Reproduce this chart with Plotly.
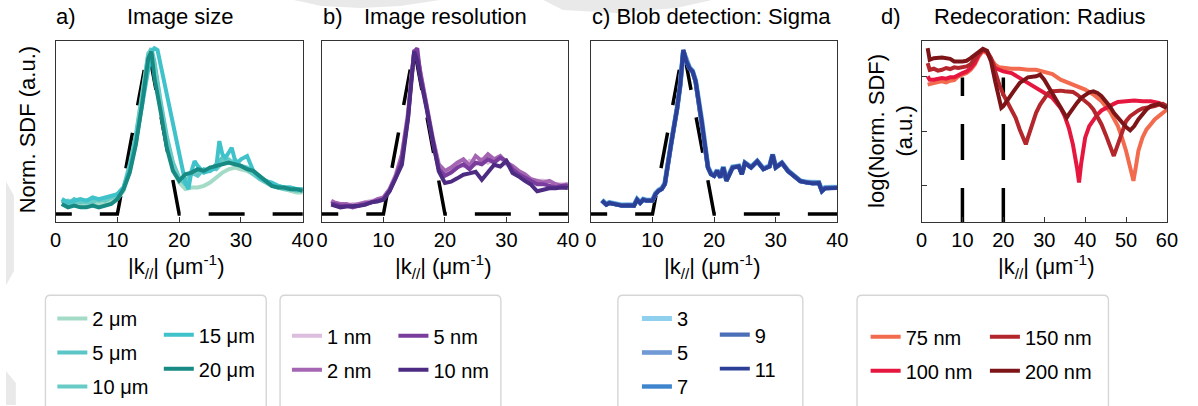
import plotly.graph_objects as go

FONT = "Liberation Sans, Arial, sans-serif"
W, H = 1198, 406

# ---------------- panel a: image size ----------------
K_A = [1, 2, 3, 4, 5, 6, 7, 8, 9, 10, 11, 12, 13, 14, 15, 15.5, 16, 17, 18, 19, 20,
       21, 22, 23, 24, 25, 26, 27, 28, 29, 30, 31, 32, 33, 34, 35, 36, 37, 38, 39, 40]
A_2UM = [0.06, 0.05, 0.06, 0.05, 0.06, 0.05, 0.06, 0.07, 0.08, 0.09, 0.14, 0.26, 0.43, 0.68, 0.93,
         0.97, 0.87, 0.63, 0.43, 0.28, 0.19, 0.15, 0.16, 0.16, 0.17, 0.19, 0.22, 0.25, 0.27, 0.28,
         0.27, 0.26, 0.24, 0.22, 0.2, 0.18, 0.16, 0.15, 0.14, 0.13, 0.13]
A_5UM = [0.08, 0.06, 0.09, 0.07, 0.08, 0.09, 0.08, 0.09, 0.10, 0.11, 0.15, 0.28, 0.46, 0.72, 0.96,
         1.0, 0.92, 0.68, 0.47, 0.31, 0.22, 0.18, 0.25, 0.23, 0.27, 0.26, 0.3, 0.34, 0.31, 0.32,
         0.29, 0.28, 0.25, 0.22, 0.2, 0.18, 0.17, 0.16, 0.16, 0.15, 0.15]
A_10UM = [0.07, 0.08, 0.06, 0.08, 0.07, 0.07, 0.09, 0.08, 0.1, 0.12, 0.16, 0.3, 0.48, 0.74, 0.97,
          0.99, 0.9, 0.66, 0.45, 0.3, 0.21, 0.2, 0.24, 0.26, 0.25, 0.28, 0.27, 0.31, 0.33, 0.3,
          0.29, 0.27, 0.24, 0.21, 0.19, 0.17, 0.16, 0.15, 0.15, 0.14, 0.14]
K_A15 = [1, 2, 3, 4, 5, 6, 7, 8, 9, 10, 11, 12, 13, 14, 15, 15.5, 16, 16.5, 17, 18, 19, 20, 21,
         21.5, 22, 22.5, 23, 24, 25, 26, 26.5, 27, 27.5, 28, 28.5, 29, 29.5, 30,
         31, 32, 33, 34, 35, 36, 37, 38, 39, 40]
A_15UM = [0.09, 0.07, 0.08, 0.09, 0.08, 0.1, 0.09, 0.1, 0.11, 0.12, 0.16, 0.27, 0.44, 0.66, 0.88,
          0.98, 1.0, 0.99, 0.9, 0.72, 0.53, 0.35, 0.19, 0.15, 0.26, 0.32, 0.29, 0.25, 0.26, 0.28,
          0.44, 0.36, 0.34, 0.37, 0.40, 0.33, 0.31, 0.33, 0.35, 0.26, 0.22, 0.2, 0.19, 0.17, 0.16,
          0.16, 0.15, 0.15]
A_20UM = [0.06, 0.04, 0.05, 0.04, 0.04, 0.05, 0.04, 0.05, 0.06, 0.09, 0.15, 0.25, 0.42, 0.66, 0.94,
          0.98, 0.82, 0.62, 0.4, 0.26, 0.2, 0.24, 0.25, 0.27, 0.26, 0.28, 0.29, 0.3, 0.31, 0.3,
          0.29, 0.27, 0.26, 0.23, 0.2, 0.17, 0.16, 0.16, 0.15, 0.15, 0.14]

# ---------------- panel b: image resolution ----------------
K_B = [1.5, 2, 3, 4, 5, 6, 7, 8, 9, 10, 11, 12, 13, 14, 14.5, 15, 15.5, 16, 17, 18, 19, 20,
       21, 22, 23, 24, 25, 26, 27, 28, 29, 30, 31, 32, 33, 34, 35, 36, 37, 38, 39, 40]
B_1NM = [0.07, 0.06, 0.06, 0.05, 0.06, 0.06, 0.07, 0.08, 0.08, 0.1, 0.15, 0.24, 0.35, 0.62,
         0.82, 0.98, 0.95, 0.85, 0.66, 0.45, 0.28, 0.25, 0.27, 0.3, 0.29, 0.32, 0.3, 0.33, 0.31,
         0.33, 0.34, 0.3, 0.28, 0.25, 0.23, 0.21, 0.2, 0.2, 0.19, 0.18, 0.18, 0.18]
B_2NM = [0.08, 0.07, 0.06, 0.06, 0.05, 0.06, 0.07, 0.07, 0.09, 0.1, 0.15, 0.23, 0.36, 0.6,
         0.8, 0.99, 0.96, 0.86, 0.67, 0.46, 0.3, 0.26, 0.28, 0.31, 0.33, 0.29, 0.35, 0.32, 0.36,
         0.33, 0.35, 0.31, 0.29, 0.26, 0.24, 0.21, 0.2, 0.19, 0.2, 0.18, 0.17, 0.18]
B_5NM = [0.06, 0.06, 0.05, 0.05, 0.04, 0.05, 0.06, 0.07, 0.08, 0.09, 0.14, 0.22, 0.33, 0.58,
         0.8, 0.98, 1.0, 0.84, 0.65, 0.44, 0.27, 0.23, 0.25, 0.28, 0.3, 0.27, 0.31, 0.3, 0.33,
         0.31, 0.34, 0.32, 0.27, 0.24, 0.22, 0.2, 0.18, 0.18, 0.17, 0.16, 0.17, 0.17]
B_10NM = [0.056, 0.05, 0.04, 0.045, 0.045, 0.05, 0.055, 0.07, 0.075, 0.086, 0.137, 0.217, 0.297,
          0.578, 0.78, 0.98, 0.93, 0.82, 0.64, 0.438, 0.257, 0.187, 0.195, 0.215, 0.237, 0.245,
          0.255, 0.207, 0.255, 0.297, 0.287, 0.32, 0.247, 0.227, 0.2, 0.177, 0.137, 0.147, 0.155,
          0.155, 0.16, 0.157]

# ---------------- panel c: blob detection sigma ----------------
K_C = [1.8, 2.5, 3, 4, 5, 6, 7, 7.5, 8, 8.5, 9, 10, 10.5, 11, 11.5, 12, 12.5, 13, 14, 14.5, 15,
       15.5, 16, 16.5, 17, 18, 19, 19.5, 20, 20.5, 21, 21.5, 22, 22.5, 23, 24, 24.5, 25, 26, 27,
       28, 29, 29.5, 30, 31, 32, 33, 34, 35, 36, 37, 37.5, 38, 39, 40]
C_3 = [0.085, 0.06, 0.07, 0.06, 0.055, 0.055, 0.055, 0.09, 0.07, 0.09, 0.085, 0.085, 0.125, 0.145,
       0.155, 0.185, 0.32, 0.42, 0.64, 0.78, 0.98, 0.93, 0.885, 0.865, 0.805, 0.565, 0.285, 0.245,
       0.235, 0.265, 0.225, 0.285, 0.205, 0.245, 0.285, 0.29, 0.245, 0.31, 0.285, 0.32, 0.275,
       0.29, 0.36, 0.285, 0.31, 0.262, 0.232, 0.2, 0.193, 0.19, 0.19, 0.142, 0.16, 0.162, 0.162]
C_5 = [0.083, 0.058, 0.068, 0.058, 0.053, 0.054, 0.052, 0.088, 0.068, 0.088, 0.083, 0.083, 0.123,
       0.143, 0.153, 0.183, 0.318, 0.42, 0.64, 0.78, 0.985, 0.925, 0.883, 0.862, 0.803, 0.562,
       0.283, 0.243, 0.233, 0.263, 0.223, 0.283, 0.203, 0.243, 0.283, 0.289, 0.243, 0.309, 0.283,
       0.319, 0.273, 0.289, 0.359, 0.283, 0.309, 0.26, 0.23, 0.2, 0.192, 0.188, 0.189, 0.14,
       0.158, 0.16, 0.16]
C_7 = [0.081, 0.057, 0.067, 0.057, 0.051, 0.053, 0.051, 0.087, 0.067, 0.087, 0.081, 0.081, 0.121,
       0.141, 0.151, 0.181, 0.317, 0.419, 0.639, 0.78, 0.988, 0.922, 0.881, 0.861, 0.801, 0.561,
       0.281, 0.241, 0.231, 0.261, 0.221, 0.281, 0.201, 0.241, 0.281, 0.288, 0.241, 0.308, 0.281,
       0.318, 0.271, 0.288, 0.358, 0.281, 0.308, 0.259, 0.229, 0.199, 0.191, 0.186, 0.188, 0.139,
       0.156, 0.159, 0.159]
C_9 = [0.08, 0.056, 0.066, 0.056, 0.05, 0.052, 0.05, 0.086, 0.066, 0.086, 0.08, 0.08, 0.12, 0.14,
       0.15, 0.18, 0.317, 0.418, 0.638, 0.78, 0.99, 0.921, 0.88, 0.86, 0.8, 0.56, 0.28, 0.24,
       0.23, 0.26, 0.22, 0.28, 0.2, 0.24, 0.28, 0.287, 0.24, 0.308, 0.28, 0.318, 0.27, 0.287,
       0.358, 0.28, 0.308, 0.258, 0.228, 0.198, 0.19, 0.185, 0.187, 0.138, 0.155, 0.158, 0.158]
C_11 = [0.08, 0.056, 0.066, 0.056, 0.05, 0.052, 0.05, 0.086, 0.066, 0.086, 0.08, 0.08, 0.12, 0.14,
        0.15, 0.18, 0.317, 0.418, 0.638, 0.78, 0.99, 0.92, 0.88, 0.86, 0.8, 0.56, 0.28, 0.24,
        0.23, 0.26, 0.22, 0.28, 0.2, 0.24, 0.28, 0.287, 0.24, 0.308, 0.28, 0.318, 0.27, 0.287,
        0.358, 0.28, 0.308, 0.258, 0.228, 0.198, 0.19, 0.185, 0.187, 0.138, 0.155, 0.158, 0.158]

# model spectrum (triangular) shown dashed in panels a-c
K_MODEL = [-3.2, 10, 15, 20, 44]
V_MODEL = [0, 0, 1, 0, 0]

# ---------------- panel d: redecoration radius (log scale) ----------------
K_D75 = [1.5, 2, 3, 4, 5, 6, 7, 8, 9, 10, 11, 12, 13, 14, 15, 16, 17, 18, 19, 20, 22, 24, 26, 28,
         30, 32, 34, 36, 38, 40, 42, 44, 46, 48, 49, 50, 51, 51.8, 52.5, 53, 54, 55, 56, 57, 58,
         59, 60]
D_75NM = [0.0705, 0.0726, 0.0757, 0.0789, 0.0811, 0.0778, 0.0834, 0.0857, 0.1, 0.107, 0.115,
          0.132, 0.163, 0.231, 0.293, 0.265, 0.201, 0.163, 0.146, 0.142, 0.138, 0.138, 0.132,
          0.132, 0.123, 0.110, 0.0869, 0.0757, 0.0658, 0.0573, 0.0465, 0.0351, 0.0231, 0.0123,
          0.00757, 0.00433, 0.00215, 0.00123, 0.00248, 0.00433, 0.00757, 0.0107, 0.0132, 0.0163,
          0.0187, 0.0215, 0.0248]
K_D100 = [1.5, 2, 3, 4, 5, 6, 7, 8, 9, 10, 11, 12, 13, 14, 15, 16, 17, 18, 19, 20, 22, 24, 26,
          28, 30, 32, 34, 35, 36, 37, 38, 38.5, 39, 40, 41, 42, 43, 44, 45, 46, 47, 48, 50, 52,
          54, 56, 58, 60]
D_100NM = [0.1, 0.0869, 0.0869, 0.0907, 0.0933, 0.0907, 0.0959, 0.0959, 0.107, 0.115, 0.123,
           0.142, 0.175, 0.248, 0.305, 0.285, 0.201, 0.142, 0.132, 0.123, 0.115, 0.0933, 0.0757,
           0.0614, 0.0498, 0.0404, 0.0265, 0.0187, 0.0115, 0.00573, 0.00215, 0.00115, 0.00248,
           0.00757, 0.0123, 0.0163, 0.0201, 0.0238, 0.0265, 0.0293, 0.0314, 0.0341, 0.0351,
           0.0361, 0.0351, 0.0351, 0.0327, 0.0285]
K_D150 = [1.5, 2, 3, 4, 5, 6, 7, 8, 9, 10, 11, 12, 13, 14, 15, 16, 17, 18, 19, 20, 21, 22, 23,
          24, 25, 25.5, 26, 27, 28, 29, 30, 31, 32, 33, 34, 35, 36, 37, 38, 39, 40, 41, 42, 43,
          44, 45, 46, 47, 48, 49, 50, 51, 52, 53, 54, 55, 56, 57, 58, 59, 60]
D_150NM = [0.175, 0.132, 0.138, 0.127, 0.132, 0.142, 0.136, 0.146, 0.142, 0.148, 0.152, 0.167,
           0.209, 0.265, 0.305, 0.285, 0.215, 0.123, 0.0705, 0.0465, 0.0327, 0.0248, 0.0175,
           0.0107, 0.00705, 0.00573, 0.00757, 0.0132, 0.0215, 0.0305, 0.0404, 0.0498, 0.0533,
           0.0548, 0.0548, 0.0533, 0.0533, 0.0519, 0.0465, 0.0404, 0.0351, 0.0305, 0.0248,
           0.0187, 0.0132, 0.00869, 0.00573, 0.00351, 0.00573, 0.01, 0.0152, 0.0187, 0.0215,
           0.0238, 0.0258, 0.0265, 0.0273, 0.0285, 0.0305, 0.0314, 0.0285]
K_D200 = [1.5, 2, 3, 5, 7, 8, 10, 11, 12, 14, 15, 16, 17, 18, 19, 19.5, 20, 21, 22.5, 24, 26, 28,
          29, 30, 31, 32, 33, 34, 35, 35.5, 36, 37, 38, 39, 40, 41, 42, 43, 44, 45, 46, 47, 48,
          49, 50, 51, 52, 53, 54, 55, 56, 57, 58, 59, 60]
D_200NM = [0.327, 0.201, 0.215, 0.221, 0.209, 0.187, 0.187, 0.193, 0.215, 0.285, 0.318, 0.293,
           0.187, 0.0811, 0.0404, 0.0265, 0.0285, 0.0377, 0.0533, 0.0757, 0.0959, 0.1, 0.107,
           0.0869, 0.0658, 0.0498, 0.0377, 0.0285, 0.0215, 0.0175, 0.0201, 0.0265, 0.0327,
           0.0404, 0.0465, 0.0512, 0.0533, 0.0498, 0.0433, 0.0351, 0.0285, 0.0215, 0.0175,
           0.0142, 0.0118, 0.0103, 0.0123, 0.0163, 0.0201, 0.0248, 0.0285, 0.0305, 0.0314,
           0.0285, 0.0265]

# reference wavevectors marked in panel d
K_MARKS = [10, 20]
MARK_SPAN = [0.0002, 0.095]

X_TICKS_40 = [0, 10, 20, 30, 40]
X_TICKS_60 = [0, 10, 20, 30, 40, 50, 60]
D_YTICKS = [0.1, 0.01, 0.001]

fig = go.Figure()
DASH = "36px,28px"


def add_line(x, y, name, color, axis, legend, width=4.0):
    fig.add_trace(go.Scatter(
        x=x, y=y, mode="lines", name=name,
        line=dict(color=color, width=width),
        xaxis="x" + axis, yaxis="y" + axis,
        legend=legend, legendgroup=legend + name, showlegend=True,
        hoverinfo="skip"))


def add_model(axis):
    fig.add_trace(go.Scatter(
        x=K_MODEL, y=V_MODEL, mode="lines", showlegend=False, hoverinfo="skip",
        line=dict(color="black", width=3.5, dash=DASH),
        xaxis="x" + axis, yaxis="y" + axis))


# panel a
add_model("")
add_line(K_A, A_2UM, "2 μm", "#a3dbc6", "", "legend")
add_line(K_A, A_5UM, "5 μm", "#5cc5c6", "", "legend")
add_line(K_A, A_10UM, "10 μm", "#68cbc6", "", "legend")
add_line(K_A15, A_15UM, "15 μm", "#3fc2c9", "", "legend2")
add_line(K_A, A_20UM, "20 μm", "#178a84", "", "legend2")

# panel b
add_model("2")
add_line(K_B, B_1NM, "1 nm", "#dcbddd", "2", "legend3")
add_line(K_B, B_2NM, "2 nm", "#a465b3", "2", "legend3")
add_line(K_B, B_5NM, "5 nm", "#7b3d9d", "2", "legend4")
add_line(K_B, B_10NM, "10 nm", "#4d2b82", "2", "legend4")

# panel c
add_model("3")
add_line(K_C, C_3, "3", "#8ed0ee", "3", "legend5", width=5.0)
add_line(K_C, C_5, "5", "#6f9ad5", "3", "legend5", width=4.6)
add_line(K_C, C_7, "7", "#3e85cd", "3", "legend5", width=4.4)
add_line(K_C, C_9, "9", "#4b6fb8", "3", "legend6", width=4.2)
add_line(K_C, C_11, "11", "#2c3f97", "3", "legend6", width=3.8)

# panel d
for k in K_MARKS:
    fig.add_trace(go.Scatter(
        x=[k, k], y=MARK_SPAN, mode="lines", showlegend=False, hoverinfo="skip",
        line=dict(color="black", width=3.5, dash=DASH), xaxis="x4", yaxis="y4"))
add_line(K_D75, D_75NM, "75 nm", "#f36b4e", "4", "legend7")
add_line(K_D100, D_100NM, "100 nm", "#e5173f", "4", "legend7")
add_line(K_D150, D_150NM, "150 nm", "#b2262c", "4", "legend8")
add_line(K_D200, D_200NM, "200 nm", "#7d1518", "4", "legend8")

# ---------- axes ----------
X_DOMAINS = {
    "": [50.3 / W, 301 / W],
    "2": [320.5 / W, 570 / W],
    "3": [593.3 / W, 843.3 / W],
    "4": [928.7 / W, 1177.7 / W],
}
Y_DOMAIN = [1 - 222.8 / H, 1 - 41 / H]

frame = dict(showline=True, linecolor="#333333", linewidth=1.3, mirror=True,
             showgrid=False, zeroline=False)
tickfont = dict(family=FONT, size=20, color="black")

layout = dict(
    width=W, height=H, autosize=False,
    margin=dict(l=0, r=0, t=0, b=0),
    paper_bgcolor="white", plot_bgcolor="white",
    font=dict(family=FONT, color="black"),
)
for ax in ["", "2", "3", "4"]:
    xr = [0, 60] if ax == "4" else [0, 40]
    xt = X_TICKS_60 if ax == "4" else X_TICKS_40
    xa = dict(frame, domain=X_DOMAINS[ax], range=xr, tickvals=xt, ticks="inside",
              ticklen=5, tickwidth=1.2, tickcolor="#333333", tickfont=tickfont,
              anchor="y" + ax)
    if ax == "4":
        ya = dict(frame, domain=Y_DOMAIN, type="log", range=[-3.667, -0.352],
                  tickvals=D_YTICKS, ticks="inside", ticklen=5, tickwidth=1.2,
                  tickcolor="#333333", showticklabels=False, anchor="x" + ax)
    else:
        ya = dict(frame, domain=Y_DOMAIN, range=[-0.05, 1.045], showticklabels=False,
                  ticks="", anchor="x" + ax)
    layout["xaxis" + ax] = xa
    layout["yaxis" + ax] = ya

# ---------- legends ----------
LEGEND_POS = {
    "legend": (47, 300), "legend2": (155, 316),
    "legend3": (285, 317), "legend4": (393, 317),
    "legend5": (640, 300), "legend6": (719, 316),
    "legend7": (872, 318), "legend8": (993, 318),
}
for key, (px, py) in LEGEND_POS.items():
    layout[key] = dict(
        x=px / W, y=1 - py / H, xanchor="left", yanchor="top",
        bgcolor="rgba(0,0,0,0)", borderwidth=0,
        font=dict(family=FONT, size=20, color="black"),
        traceorder="grouped", tracegroupgap=5, itemclick=False, itemdoubleclick=False)

fig.update_layout(**layout)


# rounded frames around the legend blocks
def rounded_box(x0, y0, x1, y1, r=5):
    rx, ry = r / W, r / H
    X0, X1 = x0 / W, x1 / W
    Y0, Y1 = 1 - y0 / H, 1 - y1 / H
    return (f"M{X0 + rx},{Y0} L{X1 - rx},{Y0} Q{X1},{Y0} {X1},{Y0 - ry} "
            f"L{X1},{Y1 + ry} Q{X1},{Y1} {X1 - rx},{Y1} L{X0 + rx},{Y1} "
            f"Q{X0},{Y1} {X0},{Y1 + ry} L{X0},{Y0 - ry} Q{X0},{Y0} {X0 + rx},{Y0} Z")


for x0, x1 in [(40, 264), (278, 502), (620.7, 808.3), (863.3, 1118.3)]:
    fig.add_shape(type="path", path=rounded_box(x0, 296, x1, 415), xref="paper", yref="paper",
                  line=dict(color="#d6d6d6", width=1.4), fillcolor="rgba(0,0,0,0)", layer="below")


# faint grey backdrop shapes behind the figure
def px_path(points):
    return "M" + " L".join(f"{x / W},{1 - y / H}" for x, y in points) + " Z"


BACKDROP = [
    [(292, 0), (320, 6), (360, 8), (400, 6), (440, 0)],
    [(545, 0), (565, 10), (620, 13), (680, 8), (716, 0)],
    [(0, 182), (8, 196), (8, 272), (0, 286)],
    [(0, 372), (10, 384), (10, 406), (0, 406)],
]
for pts in BACKDROP:
    fig.add_shape(type="path", path=px_path(pts), xref="paper", yref="paper",
                  line=dict(width=0), fillcolor="#e9e9e9", layer="below")


# ---------- text ----------
def text(x, y, s, size=22, xanchor="left", angle=0):
    fig.add_annotation(x=x / W, y=1 - y / H, xref="paper", yref="paper", text=s,
                       showarrow=False, xanchor=xanchor, yanchor="middle", textangle=angle,
                       font=dict(family=FONT, size=size, color="black"))


text(49, 17, "a)")
text(176, 17, "Image size", xanchor="center")
text(320, 17, "b)")
text(361, 17, "Image resolution")
text(592, 17, "c) Blob detection: Sigma")
text(886, 17, "d)")
text(1049, 17, "Redecoration: Radius", xanchor="center")

K_LABEL = "|k<sub>//</sub>| (μm<sup>-1</sup>)"
for cx in [172, 443, 716, 1055]:
    text(cx, 267, K_LABEL, xanchor="center")

text(22, 130, "Norm. SDF (a.u.)", xanchor="center", angle=-90)
text(897, 131, "log(Norm. SDF)<br>(a.u.)", xanchor="center", angle=-90)

fig.write_html("out.html")
